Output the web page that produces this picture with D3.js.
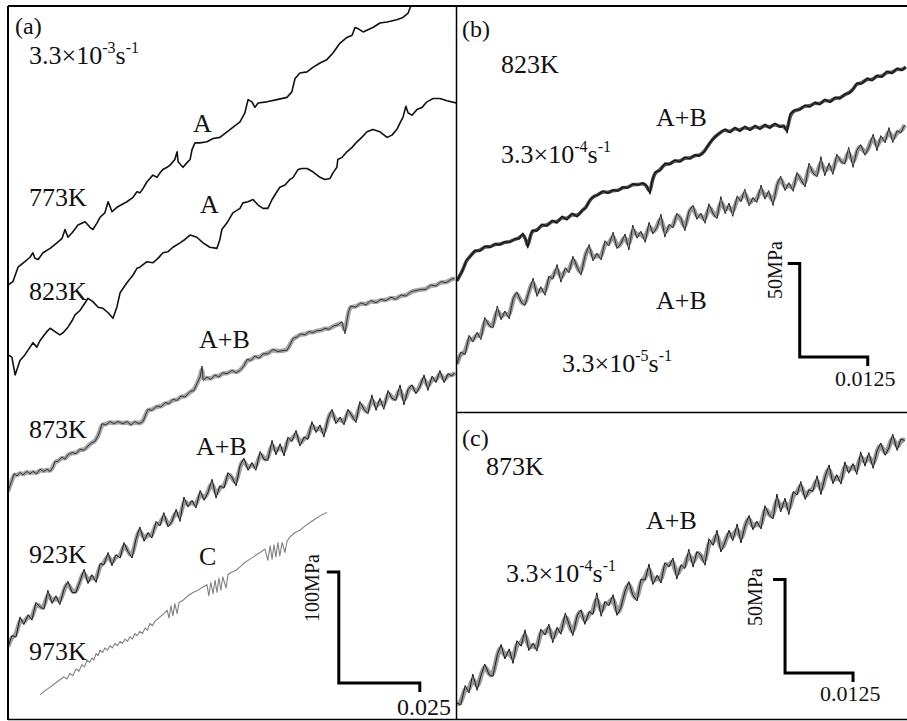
<!DOCTYPE html>
<html lang="en">
<head>
<meta charset="UTF-8">
<title>Serrated flow curves</title>
<script src="https://cdnjs.cloudflare.com/ajax/libs/d3/7.8.5/d3.min.js"></script>
<style>
    body { margin: 0; background: #fff; }
    svg { display: block; font-family: "Liberation Serif", "DejaVu Serif", serif; }
</style>
</head>
<body>
<svg width="907" height="721"></svg>
<script>
// strain in units of 1e-3, stress in MPa; curves are shifted vertically as in the figure

// (a) 3.3e-3 /s
const curve773 = [[0,391],[1.5,394],[3.1,407],[5.2,412],[6.8,416],[7.7,420],[8.3,415],[9.3,414],[10.8,420],[13.0,424],[15.1,429],[16.7,433],[17.6,441],[18.5,434],[19.8,438],[21.6,445],[23.8,448],[25.3,443],[26.2,441],[27.5,447],[28.4,452],[29.9,456],[30.9,466],[32.1,457],[33.6,461],[36.7,466],[38.6,470],[39.8,475],[40.7,474],[41.7,478],[42.9,484],[43.8,487],[44.7,490],[46.0,488],[46.9,492],[47.8,495],[49.1,497],[50.0,499],[51.5,504],[52.2,511],[52.5,502],[54.0,497],[55.2,501],[56.2,504],[56.8,513],[57.7,519],[59.3,519],[61.4,520],[63.3,523],[65.4,524],[67.6,529],[69.4,533],[71.6,538],[73.1,546],[74.1,558],[75.3,556],[76.2,551],[77.2,555],[79.9,556],[83.0,558],[86.1,560],[87.6,565],[88.6,577],[90.1,582],[92.3,583],[94.1,587],[96.3,591],[98.4,594],[100.3,600],[101.5,605],[102.5,609],[104.6,614],[106.2,616],[107.1,623],[108.0,622],[109.6,619],[111.1,621],[112.6,623],[114.8,627],[117.0,628],[120.0,630],[121.9,632],[123.5,636],[125.3,650]];

const curve823 = [[0,328],[1.2,326],[2.2,310],[3.7,323],[5.2,328],[6.8,335],[7.7,339],[8.9,335],[9.9,341],[12.0,349],[13.0,352],[14.5,349],[16.0,346],[17.0,348],[18.5,353],[19.8,359],[20.7,364],[22.2,368],[23.8,375],[24.7,379],[26.2,376],[27.8,371],[29.3,370],[30.9,366],[32.4,361],[33.6,371],[34.6,384],[36.7,393],[38.6,400],[39.8,406],[40.7,407],[42.9,412],[44.7,411],[46.3,415],[47.8,420],[49.4,421],[50.9,425],[53.1,429],[54.6,432],[56.2,436],[58.3,434],[60.2,429],[62.3,425],[64.5,424],[65.4,432],[66.0,441],[67.6,447],[69.4,456],[71.6,460],[72.5,465],[74.1,466],[75.6,468],[77.2,463],[78.7,460],[80.2,460],[81.5,468],[83.0,475],[83.9,479],[85.5,481],[87.0,486],[88.0,488],[89.5,495],[90.7,496],[92.3,496],[94.1,493],[96.3,488],[97.8,486],[99.4,487],[100.3,492],[101.5,497],[101.8,504],[103.1,506],[104.6,511],[106.2,515],[107.7,520],[109.2,524],[110.8,529],[112.6,531],[114.8,529],[117.0,524],[118.5,526],[120.0,531],[121.0,537],[121.9,542],[122.8,552],[123.5,546],[124.7,544],[126.2,549],[127.8,551],[129.3,556],[131.2,559],[133.3,559],[135.5,557],[138.3,555]];

const curve873 = [[0,205],[0.6,210],[1.2,215],[1.9,221],[2.8,219],[3.7,222],[4.6,220],[5.9,223],[6.8,221],[7.7,223],[8.9,221],[9.9,225],[11.1,223],[12.0,225],[13.0,223],[13.9,227],[14.5,232],[15.4,232],[16.7,236],[17.6,234],[18.5,238],[19.8,240],[21.0,239],[22.2,243],[23.5,242],[24.7,246],[25.9,249],[26.8,250],[27.8,255],[28.4,260],[29.0,266],[30.2,265],[31.5,268],[32.7,266],[33.9,268],[35.5,266],[36.7,268],[38.0,265],[39.2,268],[40.4,266],[41.7,268],[42.6,275],[43.2,279],[44.4,278],[46.0,282],[47.2,281],[48.5,285],[49.7,284],[50.9,288],[52.2,287],[53.4,291],[54.6,290],[56.2,295],[57.4,296],[58.3,302],[59.3,308],[59.9,318],[60.2,305],[61.4,308],[62.6,306],[63.9,310],[65.1,308],[66.3,312],[67.6,311],[69.1,314],[70.4,312],[71.6,314],[72.8,318],[73.8,324],[75.0,323],[76.2,327],[77.5,325],[78.7,329],[80.2,329],[81.8,333],[83.3,331],[84.9,332],[86.1,332],[87.0,337],[88.0,343],[89.2,344],[90.4,347],[91.7,346],[92.9,349],[94.1,348],[95.4,350],[96.6,350],[97.8,352],[99.1,351],[100.3,354],[101.8,355],[103.1,358],[104.0,347],[104.6,359],[105.2,368],[105.8,372],[107.4,371],[108.9,375],[110.5,373],[112.0,377],[113.6,375],[115.1,378],[116.7,377],[118.2,380],[119.7,378],[121.3,382],[122.8,381],[124.4,385],[125.9,386],[127.5,387],[129.0,387],[130.5,391],[132.1,390],[133.6,394],[135.2,393],[136.7,396],[137.9,397]];

const curve923 = [[0,65],[1.2,75],[2.5,74],[3.7,92],[4.9,85],[6.2,94],[7.4,89],[8.6,105],[9.9,101],[11.1,99],[12.3,116],[13.6,104],[14.8,111],[16.0,103],[17.3,117],[18.5,124],[19.8,114],[21.0,114],[22.2,124],[23.5,135],[24.7,122],[25.9,130],[27.2,123],[28.4,140],[29.6,139],[30.9,150],[32.1,138],[33.3,148],[34.6,145],[35.8,159],[37.0,151],[38.3,145],[39.5,162],[40.7,173],[42.0,160],[43.2,168],[44.4,163],[45.7,178],[46.9,174],[48.1,186],[49.4,173],[50.6,178],[51.9,189],[53.1,178],[54.3,200],[55.5,191],[56.8,197],[58.0,190],[59.3,206],[60.5,197],[61.7,204],[63.0,216],[64.2,199],[65.4,210],[66.7,208],[67.9,222],[69.1,218],[70.4,210],[71.6,228],[72.8,235],[74.1,224],[75.3,231],[76.5,224],[77.8,241],[79.0,234],[80.2,233],[81.5,251],[82.7,238],[84.0,248],[85.2,237],[86.4,254],[87.6,250],[88.9,260],[90.1,246],[91.4,254],[92.6,252],[93.8,268],[95.1,258],[96.3,265],[97.5,254],[98.8,271],[100.0,279],[101.2,266],[102.5,272],[103.7,265],[104.9,279],[106.2,273],[107.4,267],[108.6,286],[109.9,279],[111.1,275],[112.3,292],[113.6,278],[114.8,289],[116.0,279],[117.3,296],[118.5,289],[119.7,287],[121.0,301],[122.2,283],[123.5,297],[124.7,301],[125.9,293],[127.2,300],[128.4,310],[129.6,296],[130.9,309],[132.1,303],[133.3,314],[134.6,303],[135.8,311],[137.0,309],[137.9,312]];

const curve973 = [[9.9,22],[11.7,26],[13.6,30],[15.4,34],[17.3,38],[18.2,36],[19.1,41],[20.0,39],[21.0,45],[21.9,43],[22.8,49],[23.6,47],[24.4,53],[25.2,51],[25.9,55],[26.5,53],[27.2,59],[27.8,57],[28.4,62],[29.2,60],[29.9,64],[30.7,62],[31.5,66],[32.2,64],[33.0,68],[33.8,66],[34.6,70],[35.3,68],[36.1,72],[36.9,70],[37.6,74],[38.4,72],[39.2,77],[39.9,75],[40.7,79],[41.5,77],[42.3,82],[43.0,80],[43.8,86],[44.6,84],[45.3,88],[46.9,92],[48.1,95],[49.1,98],[49.7,91],[50.3,102],[50.9,93],[51.5,104],[52.2,95],[52.8,105],[54.0,107],[55.5,111],[57.1,114],[58.6,116],[60.2,119],[61.4,121],[62.0,111],[62.6,123],[63.3,113],[63.9,125],[64.5,114],[65.1,127],[65.7,116],[66.3,128],[67.3,118],[67.9,130],[68.8,132],[70.4,134],[71.6,137],[73.1,141],[74.7,144],[76.2,147],[77.8,150],[79.3,153],[80.2,143],[80.9,156],[81.5,144],[82.1,157],[82.7,146],[83.3,159],[83.9,147],[84.6,159],[85.5,150],[86.1,160],[87.0,164],[88.6,168],[90.1,170],[91.7,174],[93.2,177],[94.7,180],[96.3,183],[98.4,186]];

// (b) 823K
const curveB4 = [[0,70.1],[0.6,73.5],[1.1,76.0],[1.7,81.2],[2.4,83.0],[3.3,86.6],[4.2,86.0],[5.1,88.7],[6.1,88.0],[7.0,90.0],[7.9,89.4],[8.8,91.0],[9.7,90.8],[10.7,92.7],[11.4,92.6],[12.1,95.7],[12.7,92.0],[13.0,87.7],[13.4,93.1],[13.8,97.3],[14.7,96.7],[15.6,100.5],[16.5,99.3],[17.5,102.6],[18.4,101.0],[19.3,104.8],[20.2,102.6],[21.1,106.4],[22.1,104.3],[23.0,108.0],[23.7,109.1],[24.4,113.4],[25.2,115.5],[25.9,116.0],[26.8,118.2],[27.8,117.0],[28.7,118.8],[29.6,118.2],[30.5,120.4],[31.4,119.8],[32.3,122.0],[33.3,121.4],[34.2,122.5],[34.9,120.9],[35.5,116.6],[35.8,123.0],[36.4,128.4],[37.3,129.0],[38.2,133.1],[39.1,132.2],[40.0,134.8],[41.0,133.7],[41.9,136.3],[42.8,135.3],[43.7,137.5],[44.6,137.0],[45.4,139.0],[46.1,142.3],[46.9,145.5],[47.6,147.6],[48.3,149.2],[49.3,151.3],[50.2,149.3],[51.1,152.3],[52.0,150.0],[52.9,152.9],[53.9,150.5],[54.8,153.4],[55.7,151.0],[56.6,154.0],[57.5,151.6],[58.4,154.5],[59.4,152.2],[60.1,153.5],[60.7,149.2],[61.2,159.4],[62.1,161.5],[63.0,161.6],[64.0,164.1],[64.9,163.2],[65.8,165.7],[66.7,164.3],[67.6,167.3],[68.6,165.5],[69.5,168.4],[70.4,167.5],[71.3,170.0],[72.2,170.6],[73.0,173.3],[73.5,175.9],[74.4,175.5],[75.4,178.6],[76.3,177.1],[77.2,180.2],[78.1,178.9],[79.0,182.3],[80.0,181.0],[80.9,183.9],[81.8,182.6],[82.5,184.5]];

const curveB5 = [[0,25.7],[0.7,32.0],[1.5,30.7],[2.2,41.0],[2.9,37.4],[3.7,42.7],[4.4,38.7],[5.1,50.6],[5.9,46.4],[6.6,44.9],[7.4,56.7],[8.1,49.3],[8.8,54.0],[9.6,49.9],[10.3,60.6],[11.0,64.3],[11.8,58.7],[12.5,57.0],[13.2,64.2],[14.0,71.6],[14.7,61.8],[15.4,67.0],[16.2,62.4],[16.9,72.7],[17.6,71.1],[18.4,78.9],[19.1,69.4],[19.9,77.2],[20.6,74.4],[21.3,83.3],[22.1,77.3],[22.8,73.2],[23.5,83.2],[24.3,89.6],[25.0,80.8],[25.7,85.0],[26.5,81.3],[27.2,91.6],[27.9,88.8],[28.7,96.2],[29.4,87.4],[30.1,89.8],[30.9,95.2],[31.6,86.6],[32.3,100.0],[33.1,92.9],[33.8,96.7],[34.6,90.7],[35.3,101.5],[36.0,95.2],[36.8,99.0],[37.5,105.8],[38.2,93.5],[39.0,100.4],[39.7,98.4],[40.4,106.3],[41.2,103.3],[41.9,96.9],[42.6,107.2],[43.4,110.6],[44.1,103.0],[44.8,106.4],[45.6,100.9],[46.3,111.4],[47.1,105.9],[47.8,103.4],[48.5,115.2],[49.3,106.0],[50.0,111.8],[50.7,104.6],[51.5,115.6],[52.2,112.4],[52.9,119.2],[53.7,110.2],[54.4,114.7],[55.1,112.0],[55.9,121.4],[56.6,113.8],[57.3,118.4],[58.1,110.4],[58.8,121.3],[59.5,126.2],[60.3,118.4],[61.0,122.6],[61.8,118.0],[62.5,128.2],[63.2,124.3],[64.0,120.3],[64.7,133.1],[65.4,127.9],[66.2,125.8],[66.9,136.6],[67.6,126.3],[68.4,133.2],[69.1,127.0],[69.8,137.9],[70.6,133.8],[71.3,132.7],[72.0,141.6],[72.8,130.8],[73.5,139.9],[74.2,143.0],[75.0,137.3],[75.7,141.4],[76.5,148.6],[77.2,139.7],[77.9,147.8],[78.7,144.0],[79.4,152.1],[80.1,144.1],[80.9,150.4],[81.6,149.4],[82.3,153.5]];

// (c) 873K
const curveC4 = [[0,8.6],[0.7,7.6],[1.5,17.9],[2.2,13.9],[2.9,24.0],[3.7,15.3],[4.4,23.3],[5.1,29.4],[5.9,23.7],[6.6,22.8],[7.4,34.1],[8.1,39.9],[8.8,32.1],[9.6,37.5],[10.3,29.7],[11.0,41.9],[11.8,38.9],[12.5,47.7],[13.2,36.6],[14.0,40.6],[14.7,36.3],[15.4,48.1],[16.2,44.9],[16.9,50.7],[17.6,40.8],[18.4,49.1],[19.1,45.3],[19.9,56.7],[20.6,50.7],[21.3,44.6],[22.1,55.5],[22.8,58.4],[23.5,50.6],[24.3,57.4],[25.0,56.0],[25.7,67.5],[26.5,54.9],[27.2,62.8],[27.9,60.7],[28.7,66.5],[29.4,55.4],[30.1,59.3],[30.9,68.5],[31.6,73.5],[32.3,66.4],[33.1,63.1],[33.8,74.6],[34.6,74.4],[35.3,82.9],[36.0,71.9],[36.8,76.9],[37.5,72.7],[38.2,83.6],[39.0,81.5],[39.7,86.1],[40.4,74.8],[41.2,82.5],[41.9,80.5],[42.6,90.8],[43.4,81.2],[44.1,89.5],[44.8,87.8],[45.6,82.2],[46.3,96.4],[47.1,92.8],[47.8,101.0],[48.5,89.3],[49.3,94.7],[50.0,101.0],[50.7,95.3],[51.5,104.3],[52.2,94.1],[52.9,102.9],[53.7,108.9],[54.4,101.2],[55.1,105.8],[55.9,101.6],[56.6,114.1],[57.3,109.6],[58.1,107.0],[58.8,120.3],[59.5,110.7],[60.3,118.1],[61.0,109.3],[61.8,121.6],[62.5,119.8],[63.2,127.0],[64.0,117.4],[64.7,122.6],[65.4,121.7],[66.2,130.1],[66.9,120.0],[67.6,128.9],[68.4,135.9],[69.1,125.8],[69.8,130.7],[70.6,125.6],[71.3,137.5],[72.0,131.4],[72.8,136.6],[73.5,130.8],[74.2,142.9],[75.0,135.2],[75.7,142.5],[76.5,134.0],[77.2,143.3],[77.9,147.6],[78.7,141.0],[79.4,145.1],[80.1,152.3],[80.9,143.6],[81.6,149.7],[82.3,148.9]];

const tempsA = ["773K", "823K", "873K", "923K", "973K"];
const typesA = ["A", "A", "A+B", "A+B", "C"];
const typesB = ["A+B", "A+B"];
const typesC = ["A+B"];
const rateExpA = "-3";
const rateExpB = ["-4", "-5"];
const rateExpC = "-4";
const strainBars = [25, 12.5, 12.5];          // 1e-3 strain
const strainBarLabels = ["0.025", "0.0125", "0.0125"];
const stressBars = [100, 50, 50];              // MPa
const stressBarLabels = ["100MPa", "50MPa", "50MPa"];
const barCorners = [[102.1, 32.4], [63.0, 29.4], [60.3, 24.6]];

const svg = d3.select("svg");

const panels = [
    {key: "a", rect: [8, 6, 456, 719],
     x: d3.scaleLinear().domain([0, 25]).range([8, 89]),
     y: d3.scaleLinear().domain([0, 100]).range([719, 608])},
    {key: "b", rect: [457, 6, 907, 412],
     x: d3.scaleLinear().domain([0, 12.5]).range([457, 525]),
     y: d3.scaleLinear().domain([0, 50]).range([412, 318.5])},
    {key: "c", rect: [457, 412, 907, 719],
     x: d3.scaleLinear().domain([0, 12.5]).range([457, 525]),
     y: d3.scaleLinear().domain([0, 50]).range([719, 625.5])}
];

const defs = svg.append("defs");
panels.forEach(p => {
    defs.append("clipPath").attr("id", "clip-" + p.key)
        .append("rect")
        .attr("x", p.rect[0]).attr("y", p.rect[1])
        .attr("width", p.rect[2] - p.rect[0]).attr("height", p.rect[3] - p.rect[1]);
    p.g = svg.append("g").attr("clip-path", `url(#clip-${p.key})`);
});

function drawCurve(p, data, st) {
    const line = d3.line().x(d => p.x(d[0])).y(d => p.y(d[1]));
    // soft grey band under the noisy records (smoothed only for drawing)
    if (st.band) {
        p.g.append("path").datum(data).attr("d", line.curve(d3.curveBasis))
            .attr("fill", "none").attr("stroke", st.band)
            .attr("stroke-width", st.bandWidth).attr("stroke-linejoin", "round");
        line.curve(d3.curveLinear);
    }
    if (st.halo) {
        p.g.append("path").datum(data).attr("d", line)
            .attr("fill", "none").attr("stroke", st.halo)
            .attr("stroke-width", st.haloWidth).attr("stroke-linejoin", "round");
    }
    p.g.append("path").datum(data).attr("d", line)
        .attr("fill", "none").attr("stroke", st.color)
        .attr("stroke-width", st.width).attr("stroke-linejoin", "round");
}

const [pa, pb, pc] = panels;
drawCurve(pa, curve773, {color: "#111", width: 1.6});
drawCurve(pa, curve823, {color: "#111", width: 1.6});
drawCurve(pa, curve873, {color: "#333", width: 1, band: "#a5a5a5", bandWidth: 4.5});
drawCurve(pa, curve923, {color: "#1a1a1a", width: 1, band: "#9c9c9c", bandWidth: 4.5});
drawCurve(pa, curve973, {color: "#808080", width: 1.1});
drawCurve(pb, curveB4, {color: "#111", width: 1.2, band: "#4a4a4a", bandWidth: 3.5});
drawCurve(pb, curveB5, {color: "#2a2a2a", width: 1, band: "#999", bandWidth: 4.5});
drawCurve(pc, curveC4, {color: "#1a1a1a", width: 1, band: "#999", bandWidth: 5});

// scale bars
panels.forEach((p, i) => {
    const [c0, c1] = barCorners[i];
    const x0 = p.x(c0), y0 = p.y(c1);
    const x1 = p.x(c0 + strainBars[i]), y1 = p.y(c1 + stressBars[i]);
    svg.append("path")
        .attr("d", `M${x0 - 12},${y1}H${x0}V${y0}H${x1}V${y0 + 9}`)
        .attr("fill", "none").attr("stroke", "#000").attr("stroke-width", 3);
});

// text helpers
function txt(x, y, s, size) {
    return svg.append("text").attr("x", x).attr("y", y)
        .attr("font-size", size || 26).attr("fill", "#111").text(s);
}
function rate(x, y, exp) {
    const t = svg.append("text").attr("x", x).attr("y", y)
        .attr("font-size", 26).attr("fill", "#111");
    t.append("tspan").text("3.3×10");
    t.append("tspan").attr("font-size", 16).attr("dy", -11).text(exp);
    t.append("tspan").attr("dy", 11).text("s");
    t.append("tspan").attr("font-size", 16).attr("dy", -11).text("-1");
}
function vtxt(x, y, s) {
    svg.append("text").attr("transform", `translate(${x},${y}) rotate(-90)`)
        .attr("text-anchor", "middle").attr("font-size", 20).attr("fill", "#111").text(s);
}

// panel (a)
txt(15, 34, "(a)", 24);
rate(29, 64, rateExpA);
const tempYA = [206, 300, 438, 563, 660];
tempsA.forEach((t, i) => txt(29, tempYA[i], t));
const typePosA = [[193, 132], [200, 213], [199, 348], [196, 455], [199, 565]];
typesA.forEach((t, i) => txt(typePosA[i][0], typePosA[i][1], t));
vtxt(319, 588, stressBarLabels[0]);
txt(397, 715, strainBarLabels[0], 24);

// panel (b)
txt(462, 37, "(b)", 24);
txt(501, 73, "823K");
txt(656, 126, typesB[0]);
rate(501, 163, rateExpB[0]);
txt(656, 309, typesB[1]);
rate(562, 372, rateExpB[1]);
vtxt(782, 270, stressBarLabels[1]);
txt(835, 386, strainBarLabels[1], 22);

// panel (c)
txt(462, 446, "(c)", 24);
txt(486, 475, "873K");
txt(646, 529, typesC[0]);
rate(506, 582, rateExpC);
vtxt(762, 597, stressBarLabels[2]);
txt(820, 701, strainBarLabels[2], 22);

// frame
const frame = svg.append("g").attr("stroke", "#000").attr("fill", "none");
frame.append("path").attr("d", "M8,6H907").attr("stroke-width", 2);
frame.append("path").attr("d", "M8,6V720").attr("stroke-width", 2);
frame.append("path").attr("d", "M8,719.5H907").attr("stroke-width", 1.5);
frame.append("path").attr("d", "M456.5,6V720").attr("stroke-width", 1.5);
frame.append("path").attr("d", "M456,412.5H907").attr("stroke-width", 1.5);
</script>
</body>
</html>
